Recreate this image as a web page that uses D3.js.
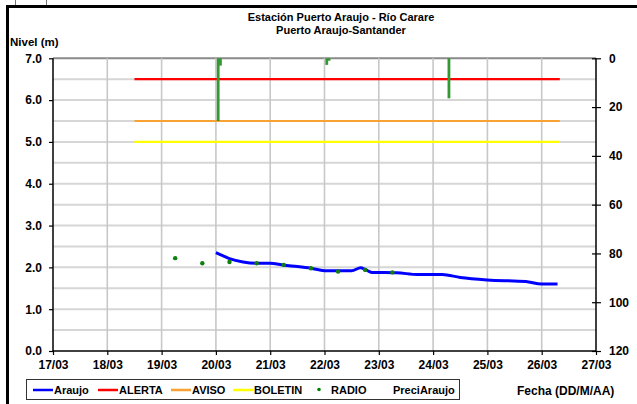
<!DOCTYPE html>
<html><head><meta charset="utf-8">
<script src="https://cdn.jsdelivr.net/npm/d3@7"></script>
<style>
html,body{margin:0;padding:0;background:#fff;overflow:hidden;}
svg{display:block;font-family:"Liberation Sans",Arial,sans-serif;}
</style></head>
<body>
<svg id="chart" width="637" height="404"></svg>
<script>
// ---- data ----
const titleLines = ["Estación Puerto Araujo - Río Carare", "Puerto Araujo-Santander"];
const dayTicks = ["2011-03-17","2011-03-18","2011-03-19","2011-03-20","2011-03-21","2011-03-22","2011-03-23","2011-03-24","2011-03-25","2011-03-26","2011-03-27"];
const levelTicks = [0,1,2,3,4,5,6,7];
const preciTicks = [0,20,40,60,80,100,120];

const araujoTime = ["2011-03-20T00:00","2011-03-20T03:00","2011-03-20T06:00","2011-03-20T12:00","2011-03-20T18:00","2011-03-21T00:00","2011-03-21T06:00","2011-03-21T12:00","2011-03-21T18:00","2011-03-22T00:00","2011-03-22T06:00","2011-03-22T12:00","2011-03-22T16:00","2011-03-22T18:00","2011-03-22T21:00","2011-03-23T08:00","2011-03-23T17:00","2011-03-24T04:00","2011-03-24T12:00","2011-03-25T00:00","2011-03-25T17:00","2011-03-26T00:00","2011-03-26T07:00"];
const araujoLevel = [2.35,2.28,2.21,2.13,2.10,2.10,2.05,2.02,1.98,1.92,1.92,1.92,1.99,1.95,1.88,1.87,1.83,1.83,1.76,1.70,1.66,1.60,1.60];

const thresholdNames = ["ALERTA","AVISO","BOLETIN"];
const thresholdValues = [6.5,5.5,5.0];
const thresholdColors = ["#ff0000","#f7a233","#ffff00"];
const thresholdSpan = ["2011-03-18T12:00","2011-03-26T08:00"];

const radioTime = ["2011-03-19T06:00","2011-03-19T18:00","2011-03-20T06:00","2011-03-20T18:00","2011-03-21T06:00","2011-03-21T18:00","2011-03-22T06:00","2011-03-22T18:00","2011-03-23T06:00"];
const radioLevel = [2.22,2.10,2.13,2.10,2.06,1.98,1.90,1.94,1.88];

const preciTime = ["2011-03-20T01:00","2011-03-20T02:00","2011-03-22T01:00","2011-03-22T02:00","2011-03-24T07:00"];
const preciValue = [25.7,3,2.7,1,16.4];

const legendItems = [
  {name:"Araujo", type:"line", color:"#0000ff"},
  {name:"ALERTA", type:"line", color:"#ff0000"},
  {name:"AVISO", type:"line", color:"#f7a233"},
  {name:"BOLETIN", type:"line", color:"#ffff00"},
  {name:"RADIO", type:"dot", color:"#008000"},
  {name:"PreciAraujo", type:"none", color:"none"}
];

// ---- layout ----
const svg = d3.select("#chart");
const parse = d3.isoParse;
const L = 53, R = 596, T = 58.3, B = 351;

const x = d3.scaleTime().domain([parse(dayTicks[0]), parse(dayTicks[dayTicks.length-1])]).range([L, R]);
const y = d3.scaleLinear().domain([0,7]).range([B, T]);
const yR = d3.scaleLinear().domain([0,120]).range([T, B]);

// outer frame (only top and left edges visible)
svg.append("line").attr("x1",6).attr("x2",637).attr("y1",6.5).attr("y2",6.5).attr("stroke","#000").attr("stroke-width",3);
svg.append("line").attr("x1",7.5).attr("x2",7.5).attr("y1",5).attr("y2",404).attr("stroke","#000").attr("stroke-width",3);
svg.append("line").attr("x1",15.5).attr("x2",15.5).attr("y1",0).attr("y2",5).attr("stroke","#777");
svg.append("line").attr("x1",46.5).attr("x2",46.5).attr("y1",0).attr("y2",5).attr("stroke","#777");

// grid
const hGrid = d3.range(0.5, 7.01, 0.5);
svg.append("g").selectAll("line").data(hGrid).join("line")
  .attr("x1",L).attr("x2",R).attr("y1",d=>y(d)).attr("y2",d=>y(d))
  .attr("stroke",d=>d===7?"#8a8a8a":"#d6d6d6").attr("stroke-width",2);
svg.append("g").selectAll("line").data(dayTicks.slice(1,-1)).join("line")
  .attr("x1",d=>x(parse(d))).attr("x2",d=>x(parse(d))).attr("y1",T).attr("y2",B)
  .attr("stroke","#c8c8c8").attr("stroke-width",1.6);

// thresholds
thresholdValues.forEach((v,i)=>{
  svg.append("line").attr("x1",x(parse(thresholdSpan[0]))).attr("x2",x(parse(thresholdSpan[1])))
    .attr("y1",y(v)).attr("y2",y(v)).attr("stroke",thresholdColors[i]).attr("stroke-width",2.2);
});

// precipitation bars (right axis, inverted)
svg.append("g").selectAll("rect").data(preciTime.map((t,i)=>({t:parse(t),v:preciValue[i]}))).join("rect")
  .attr("x",d=>x(d.t)-1.4).attr("width",2.8)
  .attr("y",yR(0)).attr("height",d=>yR(d.v)-yR(0))
  .attr("fill","#339933");

// Araujo line
const aData = araujoTime.map((t,i)=>({t:parse(t),v:araujoLevel[i]}));
svg.append("path").datum(aData)
  .attr("d", d3.line().x(d=>x(d.t)).y(d=>y(d.v)).curve(d3.curveMonotoneX))
  .attr("fill","none").attr("stroke","#0000ff").attr("stroke-width",3).attr("stroke-linejoin","round");

// Radio points
svg.append("g").selectAll("circle").data(radioTime.map((t,i)=>({t:parse(t),v:radioLevel[i]}))).join("circle")
  .attr("cx",d=>x(d.t)).attr("cy",d=>y(d.v)).attr("r",2.2).attr("fill","#0f800f");

// axes
const gL = svg.append("g").attr("transform",`translate(${L},0)`)
  .call(d3.axisLeft(y).tickValues(levelTicks).tickFormat(d3.format(".1f")).tickSize(4).tickPadding(7));
const gR = svg.append("g").attr("transform",`translate(${R},0)`)
  .call(d3.axisRight(yR).tickValues(preciTicks).tickSizeInner(5).tickSizeOuter(0).tickPadding(8));
gR.selectAll(".tick line").attr("x1",-4);
const gB = svg.append("g").attr("transform",`translate(0,${B})`)
  .call(d3.axisBottom(x).tickValues(dayTicks.map(parse)).tickFormat(d3.timeFormat("%d/%m")).tickSize(4).tickPadding(5).tickSizeOuter(0));
[gL,gR,gB].forEach(g=>{
  g.selectAll("text").attr("font-size",12).attr("font-weight","bold").attr("fill","#000").attr("font-family",null);
  g.select(".domain").attr("stroke","#000").attr("stroke-width",1.5);
  g.selectAll(".tick line").attr("stroke","#000").attr("stroke-width",1.2);
});
gB.select(".domain").attr("d",`M${L},0H${R}`);
gL.select(".domain").attr("d",`M0,${T}V${B}`);
gR.select(".domain").attr("d",`M0,${T}V${B}`);

// titles
svg.append("g").selectAll("text").data(titleLines).join("text")
  .attr("x",341).attr("y",(d,i)=>21+i*13).attr("text-anchor","middle")
  .attr("font-size",11).attr("font-weight","bold").text(d=>d);
svg.append("text").attr("x",10).attr("y",46).attr("font-size",11.5).attr("font-weight","bold").text("Nivel (m)");
svg.append("text").attr("x",517).attr("y",395).attr("font-size",12).attr("font-weight","bold").text("Fecha (DD/M/AA)");

// legend
const lg = svg.append("g");
lg.append("rect").attr("x",26.5).attr("y",379.5).attr("width",433).attr("height",20)
  .attr("fill","#fff").attr("stroke","#333").attr("stroke-width",1);
const legX = [33,98,171,233,316,393];
legendItems.forEach((it,i)=>{
  const g = lg.append("g").attr("transform",`translate(${legX[i]},390)`);
  let tx = 0;
  if(it.type==="line"){
    g.append("line").attr("x1",0).attr("x2",20).attr("y1",0).attr("y2",0).attr("stroke",it.color).attr("stroke-width",2.5);
    tx = 21;
  } else if(it.type==="dot"){
    g.append("circle").attr("cx",3).attr("cy",-0.5).attr("r",1.8).attr("fill",it.color);
    tx = 15;
  }
  g.append("text").attr("x",tx).attr("y",4).attr("font-size",11).attr("font-weight","bold").text(it.name);
});
</script>
</body></html>
